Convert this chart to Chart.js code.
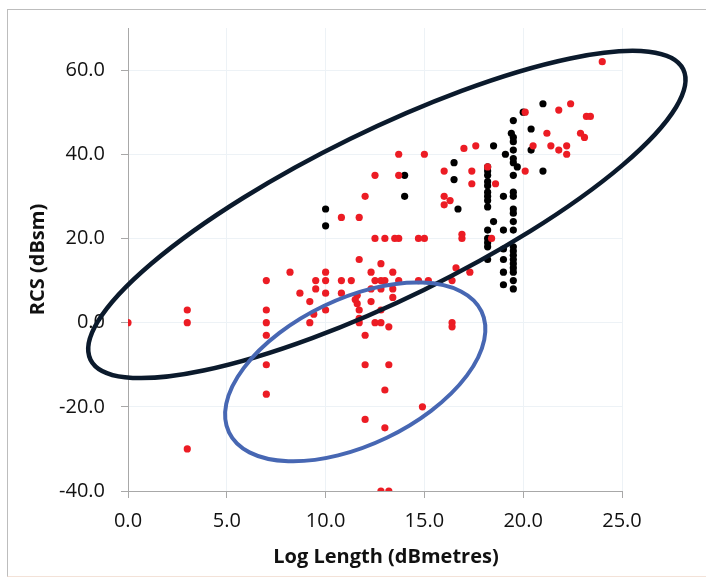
<!DOCTYPE html>
<html>
<head>
<meta charset="utf-8">
<script src="https://cdn.jsdelivr.net/npm/chart.js"></script>
<style>
  html, body { margin: 0; padding: 0; background: #fff; }
  #wrap { position: relative; width: 706px; height: 579px; overflow: hidden; }
  #frame { position: absolute; left: 7px; top: 9px; width: 740px; height: 566px;
           border: 1px solid #bdbdbd; border-bottom-color: #f3e2d8; }
  canvas { position: absolute; left: 0; top: 0; }
</style>
</head>
<body>
<div id="wrap">
  <div id="frame"></div>
  <canvas id="c" width="706" height="579"></canvas>
</div>
<script>
// red points (log length, RCS)
const redX = [0, 3, 3, 3, 7, 7, 7, 7, 7, 7, 8.2, 8.7, 9.2, 9.2, 9.4, 9.5, 9.5,
  10, 10, 10, 10, 10.8, 10.8, 10.8, 11.3, 11.7, 11.7, 11.6, 11.5, 11.6, 11.7, 11.7, 11.7,
  12, 12, 12, 12, 12.3, 12.3, 12.3, 12.5, 12.5, 12.5, 12.5, 12.8, 12.8, 12.8, 12.8, 12.8, 12.8,
  13, 13, 13, 13, 13.2, 13.2, 13.2, 13.4, 13.4, 13.4, 13.5, 13.7, 13.7, 13.7, 13.7,
  14.7, 14.7, 15.2, 15, 15, 14.9, 16, 16, 16.3, 16, 16.4, 16.4, 16.4, 16.6, 16.9, 16.9,
  17, 17.6, 17.4, 17.4, 17.3, 18.2, 18.6, 18.4, 20.1, 20.1, 20.5, 21.2, 21.4, 21.8, 21.8,
  22.2, 22.2, 22.4, 22.9, 23.1, 23.2, 23.4, 24];
const redY = [0, 3, 0, -30, 10, 3, 0, -3, -10, -17, 12, 7, 5, 0, 2, 10, 8,
  12, 10, 7, 3, 10, 7, 25, 10, 15, 25, 6.5, 5.5, 4.5, 3, 1, 0,
  -3, -10, -23, 30, 12, 8, 5, 10, 0, 20, 35, 14, 10, 8, 3, 0, -40,
  10, -16, -25, 20, -1, -10, -40, 12, 8, 6, 20, 20, 10, 35, 40,
  10, 20, 10, 20, 40, -20, 36, 30, 29, 28, 10, 0, -1, 13, 21, 20,
  41.4, 42, 36, 33, 12, 37, 33, 20, 50, 36, 42, 45, 42, 50.5, 41,
  42, 40, 52, 45, 44, 49, 49, 62];

// black points
const blackX = [10, 10, 14, 14, 16.5, 16.5, 16.7,
  18.2, 18.2, 18.2, 18.2, 18.2, 18.2, 18.2, 18.2, 18.2, 18.2, 18.2, 18.2, 18.2, 18.2, 18.5, 18.5,
  19.1, 19, 19, 19, 19, 19, 19,
  19.5, 19.4, 19.5, 19.5, 19.5, 19.5, 19.5, 19.7, 19.5, 19.5, 19.5, 19.5, 19.5, 19.5, 19.5,
  19.5, 19.5, 19.5, 19.5, 19.5, 19.5, 19.5, 19.5, 19.5,
  20, 20.4, 20.4, 21, 21];
const blackY = [27, 23, 35, 30, 38, 34, 27,
  37, 36, 35, 33.5, 32.5, 31, 30, 29, 27.5, 22, 20, 19, 18, 15, 24, 42,
  40, 30, 22, 17.5, 15, 12, 9,
  48, 45, 44, 43, 41, 39, 38, 37, 35, 31, 30, 27, 26, 24, 22,
  18, 17, 16, 15, 14, 13, 12, 10, 8,
  50, 46, 41, 52, 36];

const xTicks = [0, 5, 10, 15, 20, 25];
const yTicks = [-40, -20, 0, 20, 40, 60];
const xTitle = 'Log Length (dBmetres)';
const yTitle = 'RCS (dBsm)';

// hand-drawn ellipses: centre in data units, radii in pixels, angle in degrees
const ellipses = [
  { cx: 13.1, cy: 25.7, rx: 330, ry: 84, angle: -26.1, color: '#0b1a2c', width: 4.5 },
  { cx: 11.5, cy: -11.7, rx: 140, ry: 73, angle: -25.6, color: '#4767b3', width: 4 }
];

const toPts = (xs, ys) => xs.map((x, i) => ({ x, y: ys[i] }));

const ellipsePlugin = {
  id: 'ellipses',
  afterDatasetsDraw(chart) {
    const { ctx, scales: { x, y } } = chart;
    ctx.save();
    ellipses.forEach(e => {
      ctx.beginPath();
      ctx.ellipse(x.getPixelForValue(e.cx), y.getPixelForValue(e.cy), e.rx, e.ry,
        e.angle * Math.PI / 180, 0, Math.PI * 2);
      ctx.strokeStyle = e.color;
      ctx.lineWidth = e.width;
      ctx.stroke();
    });
    ctx.restore();
  }
};

// x title sits a little right of the plot centre in the original
const xTitlePlugin = {
  id: 'xTitle',
  afterDraw(chart) {
    const { ctx, chartArea } = chart;
    ctx.save();
    ctx.font = 'bold 20px "Open Sans"';
    ctx.fillStyle = '#111';
    ctx.textAlign = 'center';
    ctx.textBaseline = 'middle';
    ctx.fillText(xTitle, (chartArea.left + chartArea.right) / 2 + 11, chartArea.bottom + 66);
    ctx.restore();
  }
};

const tickFont = { family: 'Open Sans', size: 20 };
const titleFont = { family: 'Open Sans', size: 20, weight: 'bold' };

new Chart(document.getElementById('c'), {
  type: 'scatter',
  data: {
    datasets: [
      { data: toPts(redX, redY), backgroundColor: '#ec1c24', borderWidth: 0, pointRadius: 3.6 },
      { data: toPts(blackX, blackY), backgroundColor: '#000', borderWidth: 0, pointRadius: 3.6 }
    ]
  },
  options: {
    responsive: false,
    animation: false,
    layout: { padding: { left: 0, right: 84, top: 28, bottom: 0 } },
    plugins: { legend: { display: false }, tooltip: { enabled: false } },
    scales: {
      x: {
        type: 'linear', min: 0, max: 25,
        afterBuildTicks: s => { s.ticks = xTicks.map(v => ({ value: v })); },
        afterFit: s => { s.height = 88; },
        ticks: { font: tickFont, color: '#111', padding: 11, maxRotation: 0,
                 callback: v => v.toFixed(1) },
        grid: { color: '#edf2f6', tickColor: '#a8a8a8', tickLength: 7 },
        border: { color: '#a8a8a8' },
        title: { display: false }
      },
      y: {
        type: 'linear', min: -40, max: 70,
        afterBuildTicks: s => { s.ticks = yTicks.map(v => ({ value: v })); },
        afterFit: s => { s.width = 128; },
        ticks: { font: tickFont, color: '#111', padding: 16,
                 callback: v => v.toFixed(1) },
        grid: { color: '#edf2f6', tickColor: '#a8a8a8', tickLength: 7 },
        border: { color: '#a8a8a8' },
        title: { display: true, text: yTitle, font: titleFont, color: '#111',
                 padding: { top: 26, bottom: 0 } }
      }
    }
  },
  plugins: [ellipsePlugin, xTitlePlugin]
});
</script>
</body>
</html>
